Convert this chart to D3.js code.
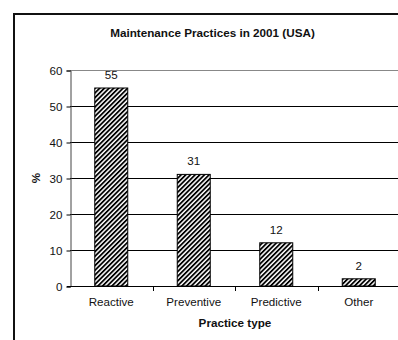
<!DOCTYPE html>
<html><head><meta charset="utf-8">
<script src="https://cdn.jsdelivr.net/npm/d3@7"></script>
<style>
html,body{margin:0;padding:0;background:#fff;}
svg{display:block;font-family:"Liberation Sans",Arial,sans-serif;}
</style></head>
<body>
<svg id="chart" width="398" height="340"></svg>
<script>
const title = "Maintenance Practices in 2001 (USA)";
const categories = ["Reactive", "Preventive", "Predictive", "Other"];
const values = [55, 31, 12, 2];
const yTicks = [0, 10, 20, 30, 40, 50, 60];
const xTitle = "Practice type";
const yTitle = "%";

const svg = d3.select("#chart");
const pLeft = 70, pRight = 400, pTop = 70, pBottom = 286;

const defs = svg.append("defs");
const pat = defs.append("pattern").attr("id","hatch")
  .attr("patternUnits","userSpaceOnUse").attr("width",3.3).attr("height",3.3)
  .attr("patternTransform","rotate(45)");
pat.append("rect").attr("width",3.3).attr("height",3.3).attr("fill","#fff");
pat.append("rect").attr("width",1.8).attr("height",3.3).attr("fill","#000");

// outer chart frame
svg.append("rect").attr("x",14).attr("y",14).attr("width",600).attr("height",600)
  .attr("fill","none").attr("stroke","#111").attr("stroke-width",2);

const x = d3.scaleBand().domain(categories).range([pLeft,pRight])
  .paddingInner(0.6).paddingOuter(0.3);
const y = d3.scaleLinear().domain([0,60]).range([pBottom,pTop]);

// gridlines
svg.append("g").selectAll("line").data(yTicks.filter(t=>t>0)).join("line")
  .attr("x1",pLeft).attr("x2",pRight)
  .attr("y1",d=>Math.round(y(d))+0.5).attr("y2",d=>Math.round(y(d))+0.5)
  .attr("stroke",d=>d===60?"#888":"#000").attr("stroke-width",1);

// y axis
const yAxis = d3.axisLeft(y).tickValues(yTicks).tickSize(4).tickPadding(4);
const gy = svg.append("g").attr("transform",`translate(${pLeft+0.5},0.5)`).call(yAxis);
gy.select(".domain").attr("stroke","#444");
gy.selectAll(".tick line").attr("stroke","#000");
gy.selectAll("text").attr("font-size","11.6px").attr("fill","#111")
  .attr("font-family","'Liberation Sans',Arial,sans-serif");

// bars
svg.append("g").selectAll("rect").data(values).join("rect")
  .attr("x",(d,i)=>x(categories[i])).attr("width",x.bandwidth())
  .attr("y",d=>y(d)).attr("height",d=>y(0)-y(d))
  .attr("fill","url(#hatch)").attr("stroke","#000").attr("stroke-width",1);

// x axis line
svg.append("line").attr("x1",pLeft-3).attr("x2",pRight)
  .attr("y1",pBottom+0.5).attr("y2",pBottom+0.5).attr("stroke","#000");
// category boundary ticks
const gap = x.step()-x.bandwidth();
svg.append("g").selectAll("line").data(categories.slice(1)).join("line")
  .attr("x1",d=>Math.round(x(d)-gap/2)+0.5).attr("x2",d=>Math.round(x(d)-gap/2)+0.5)
  .attr("y1",pBottom).attr("y2",pBottom+5).attr("stroke","#000");

// category labels
svg.append("g").selectAll("text").data(categories).join("text")
  .attr("x",d=>x(d)+x.bandwidth()/2).attr("y",306)
  .attr("text-anchor","middle").attr("font-size","11.6px").attr("fill","#111")
  .text(d=>d);

// value labels
svg.append("g").selectAll("text").data(values).join("text")
  .attr("x",(d,i)=>x(categories[i])+x.bandwidth()/2).attr("y",d=>y(d)-9)
  .attr("text-anchor","middle").attr("font-size","11.6px").attr("fill","#111")
  .text(d=>d);

// title
svg.append("text").attr("x",212.5).attr("y",37).attr("text-anchor","middle")
  .attr("font-size","11.7px").attr("font-weight","bold").attr("fill","#111").text(title);
// x title
svg.append("text").attr("x",235).attr("y",327).attr("text-anchor","middle")
  .attr("font-size","11.7px").attr("font-weight","bold").attr("fill","#111").text(xTitle);
// y title
svg.append("text").attr("transform","translate(40,178) rotate(-90)")
  .attr("text-anchor","middle").attr("font-size","11.7px").attr("font-weight","bold")
  .attr("fill","#111").text(yTitle);
</script>
</body></html>
